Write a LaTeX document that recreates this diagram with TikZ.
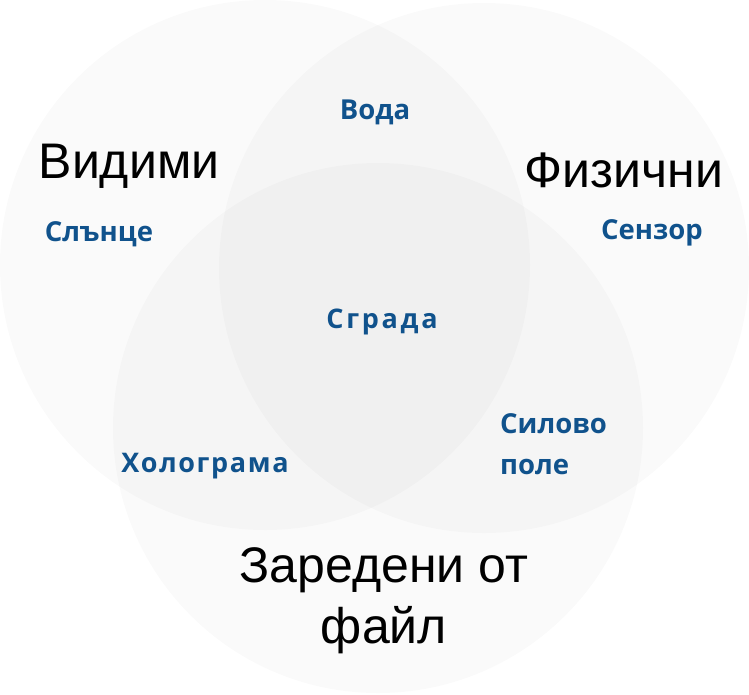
\documentclass[tikz,border=0pt]{standalone}
\usepackage{fontspec}
\setmainfont{Liberation Sans}
\newfontfamily\itemfont{Open Sans}
\newfontfamily\itemfontw{Open Sans}[LetterSpace=6]
\newfontfamily\itemfontww{Open Sans}[LetterSpace=10]
\usetikzlibrary{positioning}
\definecolor{itemblue}{RGB}{16,82,140}
\definecolor{ttlblack}{RGB}{0,0,0}
\tikzset{
  vset/.style={fill=black, fill opacity=0.019, draw=none},
  settl/.style={font=\fontsize{50}{61}\selectfont, text=ttlblack, align=center, inner sep=0pt},
  itemlbl/.style={font=\itemfont\bfseries\fontsize{27.5}{41}\selectfont, text=itemblue, inner sep=0pt},
}
\begin{document}
\begin{tikzpicture}[x=1pt, y=-1pt]
   \useasboundingbox (0,0) rectangle (749,694);
   % the three sets
   \fill[vset] (265,265) circle[radius=265];
   \fill[vset] (484,268) circle[radius=265];
   \fill[vset] (378,428) circle[radius=265];
   % set titles
   \node[settl] (vis) at (129,166) {Видими};
   \node[settl] (phy) at (624,170) {Физични};
   \node[settl, anchor=base] (fil) at (384,643) {Заредени от\\файл};
   % items
   \node[itemlbl] (water) at (375,112) {Вода};
   \node[itemlbl] (sun) at (99,234) {Слънце};
   \node[itemlbl] (sens) at (652,233) {Сензор};
   \node[itemlbl, font=\itemfontww\bfseries\fontsize{27}{41}\selectfont] (bldg) at (382,322) {Сграда};
   \node[itemlbl, font=\itemfontw\bfseries\fontsize{27}{41}\selectfont] (holo) at (205,466) {Холограма};
   \node[itemlbl, align=left, anchor=north west] (field) at (500,413) {Силово\\поле};
\end{tikzpicture}
\end{document}
